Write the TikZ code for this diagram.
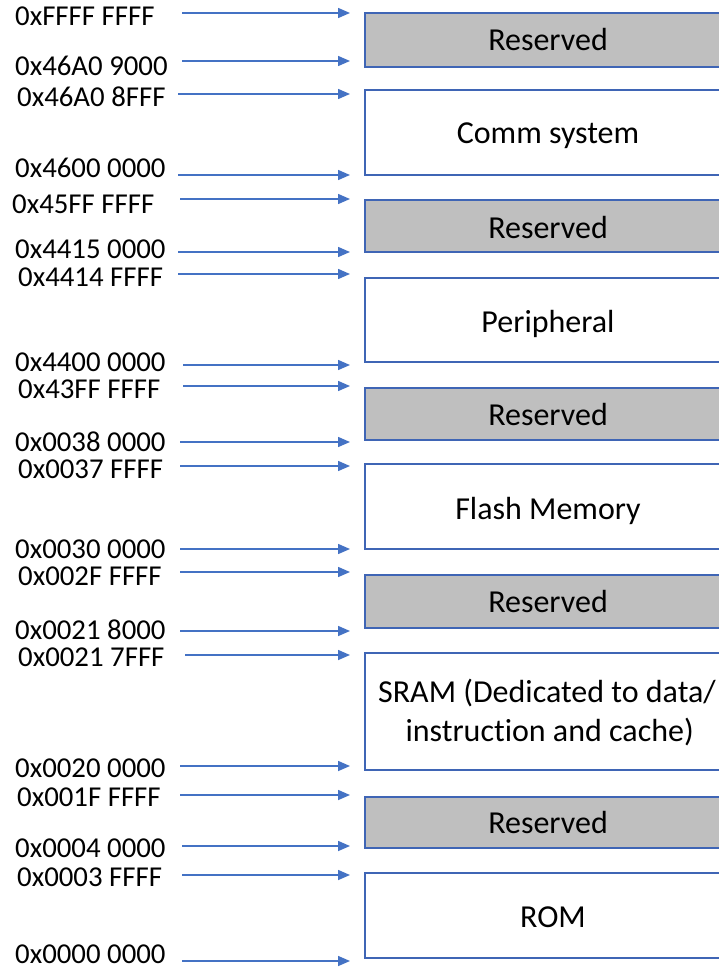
\documentclass[tikz,border=0pt]{standalone}
\usepackage{fontspec}
\setmainfont{Carlito}[Ligatures={NoCommon}]
\usetikzlibrary{arrows.meta}
\definecolor{accblue}{HTML}{4472C4}
\definecolor{boxblue}{HTML}{3F65B5}
\definecolor{resgray}{HTML}{BFBFBF}
\tikzset{
  addr/.style={anchor=west, inner sep=0pt, font=\fontsize{28.8}{34}\selectfont},
  ptr/.style={draw=accblue, line width=1.5pt, -{Triangle[length=12pt,width=10pt]}},
  memblk/.style={draw=boxblue, line width=1.8pt, fill=white},
  resblk/.style={draw=boxblue, line width=1.8pt, fill=resgray},
  blktext/.style={anchor=base, inner sep=0pt, font=\fontsize{32}{38}\selectfont, align=center}
}
\begin{document}
\begin{tikzpicture}[x=1pt,y=-1pt]
\useasboundingbox (0,0) rectangle (719,968);
\clip (0,0) rectangle (719,968);
\fill[white] (0,0) rectangle (719,968);
% blocks
\draw[resblk] (365,13) rectangle (731,67);
\draw[memblk] (365,90) rectangle (731,175);
\draw[resblk] (365,200) rectangle (731,252);
\draw[memblk] (365,278) rectangle (731,362);
\draw[resblk] (365,388) rectangle (731,440);
\draw[memblk] (365,464) rectangle (731,549);
\draw[resblk] (365,575) rectangle (731,628);
\draw[memblk] (365,653) rectangle (731,770);
\draw[resblk] (365,797) rectangle (731,848);
\draw[memblk] (365,873) rectangle (731,958);
% block texts
\node[blktext] (t1) at (548,51) {Reserved};
\node[blktext] (t2) at (548,144) {Comm system};
\node[blktext] (t3) at (548,238) {Reserved};
\node[blktext] (t4) at (548,332) {Peripheral};
\node[blktext] (t5) at (548,425) {Reserved};
\node[blktext] (t6) at (548,519) {Flash Memory};
\node[blktext] (t7) at (548,612) {Reserved};
\node[blktext, anchor=center] (t8) at (547,713) {SRAM (Dedicated to data/\\[1pt]\,instruction and cache)};
\node[blktext] (t9) at (548,833) {Reserved};
\node[blktext] (t10) at (553,927) {ROM};
% address labels and pointers
\foreach \i/\txt/\lx/\ly/\ax/\ay in {
  1/0xFFFF FFFF/15/16/182/13,
  2/0x46A0 9000/15/66/182/61,
  3/0x46A0 8FFF/17/97/178/94,
  4/0x4600 0000/15/168/178/175,
  5/0x45FF FFFF/12/204/180/199,
  6/0x4415 0000/15/249/178/252,
  7/0x4414 FFFF/18/277/178/274,
  8/0x4400 0000/15/362/183/365,
  9/0x43FF FFFF/18/389/183/386,
  10/0x0038 0000/15/442/180/442,
  11/0x0037 FFFF/18/469/180/466,
  12/0x0030 0000/15/549/180/549,
  13/0x002F FFFF/18/576/180/572,
  14/0x0021 8000/15/630/180/631,
  15/0x0021 7FFF/18/657/185/655,
  16/0x0020 0000/15/768/180/766,
  17/0x001F FFFF/17/797/180/795,
  18/0x0004 0000/15/848/182/846,
  19/0x0003 FFFF/17/877/182/875,
  20/0x0000 0000/15/954/182/961}{
  \node[addr] (l\i) at (\lx,\ly) {\txt};
  \coordinate (s\i) at (\ax,\ay);
  \coordinate (e\i) at (350,\ay);
  \draw[ptr] (s\i) -- (e\i);
}
\end{tikzpicture}
\end{document}
